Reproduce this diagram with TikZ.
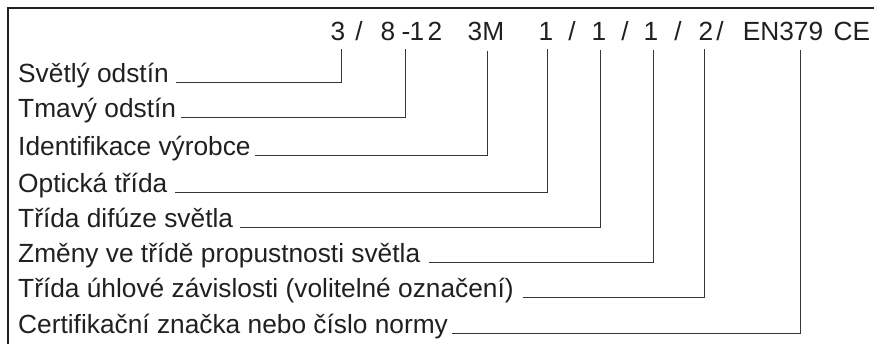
\documentclass[tikz,border=0pt]{standalone}
\usepackage{fontspec}
\setmainfont{Liberation Sans}
\definecolor{ink}{HTML}{231F20}
\begin{document}
\begin{tikzpicture}[x=1pt,y=-1pt,
  lbl/.style={anchor=base west,inner sep=0pt,font=\fontsize{26.3}{30}\selectfont,text=ink},
  tok/.style={anchor=base,inner sep=0pt,font=\fontsize{26.3}{30}\selectfont,text=ink},
  conn/.style={draw=ink!90,line width=0.9pt},
  frame/.style={draw=ink,line width=1.1pt}]
\useasboundingbox (0,0) rectangle (874,344);
% frame
\coordinate (fa) at (874,8);
\coordinate (fb) at (8,8);
\coordinate (fc) at (8,344);
\draw[frame] (fa) -- (fb) -- (fc);
% top code tokens
\node[tok] (c1) at (338,40.5) {3};
\node[tok] (s1) at (359,40.5) {/};
\node[tok] (c2a) at (388,40.5) {8};
\node[tok] (c2b) at (406,40.5) {-};
\node[tok] (c2c) at (417,40.5) {1};
\node[tok] (c2d) at (435,40.5) {2};
\node[tok] (c3) at (486,40.5) {3M};
\node[tok] (c4) at (546,40.5) {1};
\node[tok] (s4) at (572,40.5) {/};
\node[tok] (c5) at (599,40.5) {1};
\node[tok] (s5) at (625,40.5) {/};
\node[tok] (c6) at (651,40.5) {1};
\node[tok] (s6) at (678,40.5) {/};
\node[tok] (c7) at (706,40.5) {2};
\node[tok] (s7) at (720,40.5) {/};
\node[tok] (c8) at (783,40.5) {EN379};
\node[tok] (c9) at (852,40.5) {CE};
% connector tops
\coordinate (t1) at (341,49.5);
\coordinate (t2) at (405,49.5);
\coordinate (t3) at (487,51);
\coordinate (t4) at (547,49.5);
\coordinate (t5) at (600,50);
\coordinate (t6) at (653,50);
\coordinate (t7) at (704,49.5);
\coordinate (t8) at (800,50);
% row labels
\node[lbl] (r1) at (18,82.5) {Světlý odstín};
\node[lbl] (r2) at (18,117.5) {Tmavý odstín};
\node[lbl] (r3) at (18,155.5) {Identifikace výrobce};
\node[lbl] (r4) at (18,192.5) {Optická třída};
\node[lbl] (r5) at (18,227.5) {Třída difúze světla};
\node[lbl] (r6) at (18,262.5) {Změny ve třídě propustnosti světla};
\node[lbl] (r7) at (18,297.5) {Třída úhlové závislosti (volitelné označení)};
\node[lbl] (r8) at (18,333.5) {Certifikační značka nebo číslo normy};
% connectors
\draw[conn] (t1) |- ([xshift=7pt,yshift=0.5pt]r1.base east);
\draw[conn] (t2) |- ([xshift=5pt,yshift=0.5pt]r2.base east);
\draw[conn] (t3) |- ([xshift=4pt,yshift=0.5pt]r3.base east);
\draw[conn] (t4) |- ([xshift=8pt,yshift=0.5pt]r4.base east);
\draw[conn] (t5) |- ([xshift=7pt,yshift=0.5pt]r5.base east);
\draw[conn] (t6) |- ([xshift=9pt,yshift=0.5pt]r6.base east);
\draw[conn] (t7) |- ([xshift=9pt,yshift=0.5pt]r7.base east);
\draw[conn] (t8) |- ([xshift=4pt,yshift=0.5pt]r8.base east);
\end{tikzpicture}
\end{document}
